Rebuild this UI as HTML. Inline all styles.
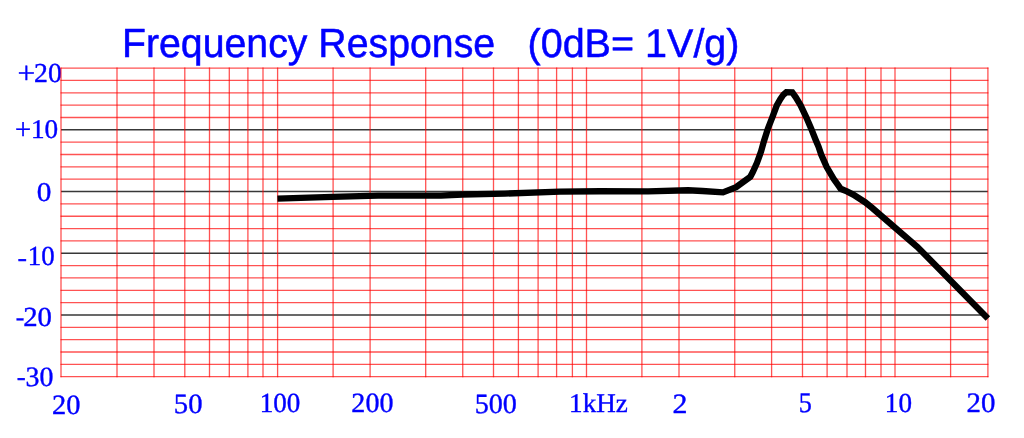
<!DOCTYPE html>
<html><head><meta charset="utf-8"><title>Frequency Response</title>
<style>
html,body{margin:0;padding:0;background:#fff;}
body{width:1024px;height:438px;overflow:hidden;}
svg{display:block;will-change:transform;}
text{text-rendering:geometricPrecision;}
.t{font-family:"Liberation Sans",sans-serif;font-size:40px;fill:#0000ff;stroke:#0000ff;stroke-width:0.5px;stroke-linejoin:round;}
.l{font-family:"Liberation Serif",serif;font-size:28px;fill:#0000ff;stroke:#0000ff;stroke-width:0.4px;stroke-linejoin:round;}
</style></head><body>
<svg width="1024" height="438" viewBox="0 0 1024 438">
<rect x="0" y="0" width="1024" height="438" fill="#ffffff"/>
<g>
<text class="t" transform="translate(121.93 57.25) scale(0.9816 1.0200)">Frequency Response</text>
<text class="t" transform="translate(527.5 57.25) scale(0.9880 1.0000)">(0dB= 1V/g)</text>
<text class="l" transform="translate(17.44 82.62) scale(1.1206 1.0887)">+</text>
<text class="l" transform="translate(34.08 81.53) scale(0.9921 0.9791)">20</text>
<text class="l" transform="translate(15.08 138.75) scale(1.0208 1.0619)">+</text>
<text class="l" transform="translate(30.91 137.84) scale(0.9725 0.9632)">10</text>
<text class="l" transform="translate(36.69 201.33) scale(1.0449 0.9738)">0</text>
<text class="l" transform="translate(17.54 265.54) scale(1.0174 0.9083)">-</text>
<text class="l" transform="translate(27.74 265.43) scale(0.9603 0.9844)">10</text>
<text class="l" transform="translate(15.64 326.37) scale(0.9212 1.0039)">-</text>
<text class="l" transform="translate(23.24 325.73) scale(1.0271 0.9844)">20</text>
<text class="l" transform="translate(16.8 385.24) scale(0.9624 0.9083)">-</text>
<text class="l" transform="translate(25.57 385.53) scale(0.9963 1.0003)">30</text>
<text class="l" transform="translate(52.05 413.53) scale(1.0154 0.9950)">20</text>
<text class="l" transform="translate(173.83 412.83) scale(1.0234 0.9950)">50</text>
<text class="l" transform="translate(259.67 412.43) scale(0.9682 0.9897)">100</text>
<text class="l" transform="translate(351.37 411.58) scale(1.0024 0.9924)">200</text>
<text class="l" transform="translate(474.67 412.68) scale(1.0049 0.9924)">500</text>
<text class="l" transform="translate(569.12 411.6) scale(0.9685 0.9625)">1kHz</text>
<text class="l" transform="translate(672.38 412.65) scale(1.0691 0.9952)">2</text>
<text class="l" transform="translate(798.68 411.82) scale(0.9353 1.0103)">5</text>
<text class="l" transform="translate(884.82 412.38) scale(0.9684 0.9844)">10</text>
<text class="l" transform="translate(966.53 411.83) scale(1.0310 1.0003)">20</text>
<path d="M60.5 68.1H988.4M60.5 80.44H988.4M60.5 92.79H988.4M60.5 105.13H988.4M60.5 117.48H988.4M60.5 142.16H988.4M60.5 154.51H988.4M60.5 166.85H988.4M60.5 179.2H988.4M60.5 203.88H988.4M60.5 216.23H988.4M60.5 228.57H988.4M60.5 240.92H988.4M60.5 265.6H988.4M60.5 277.95H988.4M60.5 290.29H988.4M60.5 302.64H988.4M60.5 327.32H988.4M60.5 339.67H988.4M60.5 352.01H988.4M60.5 364.36H988.4M60.5 376.7H988.4" stroke="#ff0000" stroke-opacity="0.68" stroke-width="1.3" fill="none"/>
<path d="M61 129.82H987.9M61 191.54H987.9M61 253.26H987.9M61 314.98H987.9" stroke="#000000" stroke-opacity="0.78" stroke-width="1.5" fill="none"/>
<path d="M61 67.6V377.2M117 67.6V377.2M154 67.6V377.2M184.8 67.6V377.2M209.5 67.6V377.2M229.3 67.6V377.2M247.9 67.6V377.2M263 67.6V377.2M277.6 67.6V377.2M333.1 67.6V377.2M370.1 67.6V377.2M425.7 67.6V377.2M462.75 67.6V377.2M493.5 67.6V377.2M518.4 67.6V377.2M538.1 67.6V377.2M556.6 67.6V377.2M572.4 67.6V377.2M586.5 67.6V377.2M641.9 67.6V377.2M679 67.6V377.2M734.75 67.6V377.2M771.6 67.6V377.2M802.5 67.6V377.2M827.1 67.6V377.2M847 67.6V377.2M865.5 67.6V377.2M881 67.6V377.2M895 67.6V377.2M950.6 67.6V377.2M987.9 67.6V377.2" stroke="#ff0000" stroke-opacity="0.68" stroke-width="1.3" fill="none"/>
<polyline points="277.4,198.55 332.5,196.84 378,195.6 441,195.6 462.5,194.5 505,193.6 560,191.7 600,191.25 648,191.35 688,190.3 702.5,191 723,192.4 736.1,187.1 750.3,176.8 752.8,172 757,162.8 761.1,151.4 764,141 767.7,129.2 772.3,117.3 776.8,105.3 780.3,99.2 783.3,94.8 786.3,92.3 792.3,92.4 795.8,97.3 800.6,105.3 806.3,117.3 811.4,129.2 815.7,140 818.6,146.85 821.1,154.3 826.6,166.8 833.6,178.8 838.5,185.7 840.7,188.8 846.9,191.4 853.2,194.6 865.1,202.2 872,207.8 917.5,247 987.9,318.5" stroke="#000" stroke-width="6.35" fill="none" stroke-linejoin="miter" stroke-miterlimit="4" stroke-linecap="butt"/>
</g>
</svg>
</body></html>
